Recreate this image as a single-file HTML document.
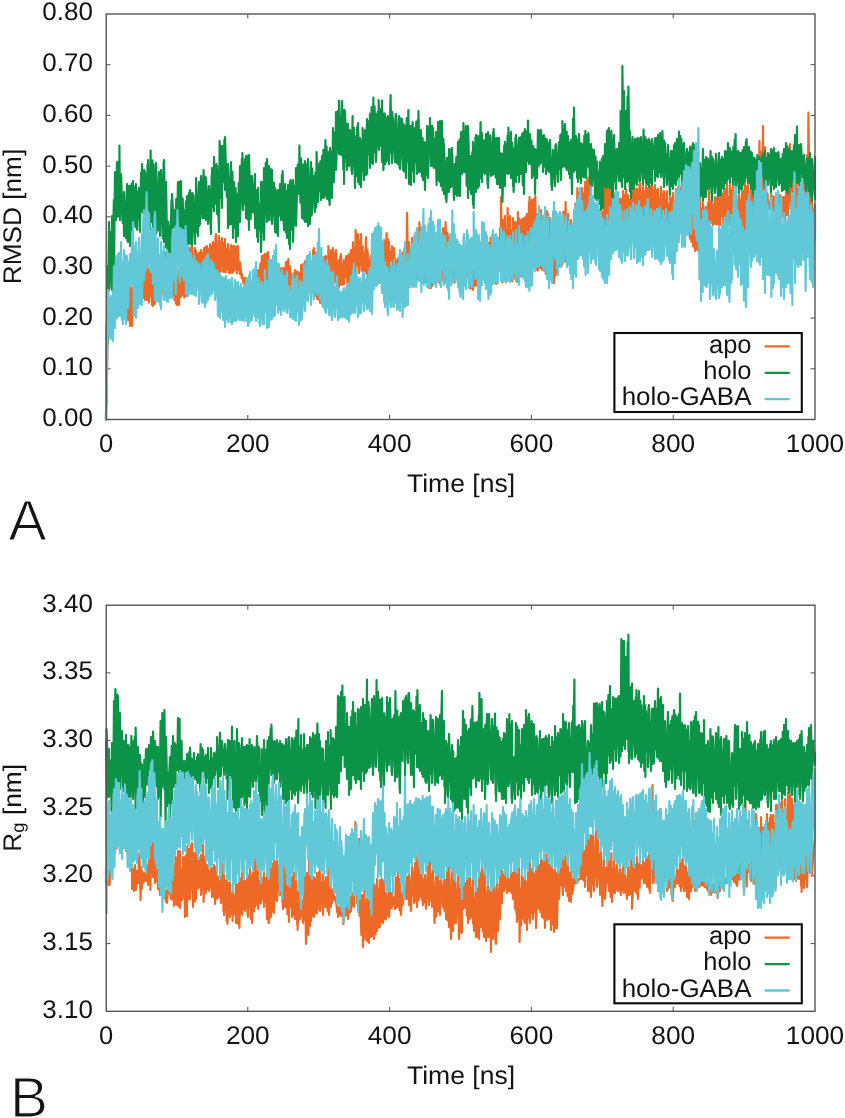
<!DOCTYPE html>
<html><head><meta charset="utf-8"><title>RMSD and Rg</title>
<style>html,body{margin:0;padding:0;background:#fff}svg{display:block;will-change:transform}text{font-family:"Liberation Sans",sans-serif;font-size:25.5px;fill:#141414;text-rendering:geometricPrecision}</style></head><body>
<svg width="845" height="1118" viewBox="0 0 845 1118">
<rect width="845" height="1118" fill="#fff"/>
<path d="M106 368.8h4.5M815 368.8h-4.5M106 318.1h4.5M815 318.1h-4.5M106 267.4h4.5M815 267.4h-4.5M106 216.8h4.5M815 216.8h-4.5M106 166.1h4.5M815 166.1h-4.5M106 115.4h4.5M815 115.4h-4.5M106 64.7h4.5M815 64.7h-4.5M247.8 419.5v-4.5M247.8 14v4.5M389.6 419.5v-4.5M389.6 14v4.5M531.4 419.5v-4.5M531.4 14v4.5M673.2 419.5v-4.5M673.2 14v4.5" stroke="#505050" stroke-width="1" fill="none"/>
<g>
<path d="M106 419.5l.6-93.4l0 77.8l1.4-97.8l0 32.8l1.9-32.5l.7 21.7l.7-19.9l.7 15.7l0-17.8l1.8 11.7l.8-15.6l.8 17.1l.8-23.3l.8 21.6l.7-25.9l.9 23.8l.8-27.3l.6 25.7l0-27.8l1.7 28.9l1-25.3l.6 27.3l1-30l.6 31.8l.9-32.5l.7 25.8l.8-27.4l.9 35.4l.9-37.4l.9 43.2l0-43.8l1.4 38.9l.7-32.9l-.1 37.8l1.7-41.3l.9 22l.9-30.3l-.5 27.6l1.9-29.8l.8 28.3l.9-27.4l.8 24l.6-28.9l1 30.9l.7-29.1l.9 21.8l.9-26.3l.7 31.3l.8-32.6l0 33.8l1.6-39.4l.7 39.5l.3-45.9l1.4 48.5l1-32.5l.6 26.2l.8-26.4l.7 35l.8-35.7l.1 36.7l1.7-36.7l.3 34.7l1.3-33.8l.6 24l1-25.9l.7 22.3l.7-23.9l.7 27.3l0-27.8l1.7 27.8l.9-32.7l.9 31.9l.8-36.8l.8 32.3l.7-36.3l.8 39.1l.8-43.6l.6 46.1l0-47.8l1.8 48.7l.8-34.2l.8 35l.6-29.5l1.1 29.2l.6-27.2l.9 32.4l.7-31.7l.8 35l1-24.3l-.1 25.4l1.7-35.2l.3 35.2l1-34.8l1.1 26.7l.7-30.3l.7 28.1l.9-31.9l.9 34.9l.6-40.7l1.1 39l0-41.8l1.5 34.2l.8-37.2l.8 36.5l-.1-39.5l1.5 37.6l.8-39.1l.7 37.3l0-37.8l1.8 35.1l1.2-33.1l.3 31.8l.8-29l.9 30l1-26.8l.6 26.2l.7-27.6l.7 27.2l1-29.8l.9 27.9l.7-25.1l.8 25.4l.6-30.2l1.1 29.3l.7-30.5l.9 29.6l.3-30.4l1.2 29.9l.7-26.9l1.1 26.8l0-31.8l1.4 28.3l.9-26.7l.6 19.2l.1-22.8l1.7 30.1l.8-36.2l.7 36.6l-.2-38.5l1.8 37.7l1.2-35.7l.5 32.7l.6-27l-.1 30.1l2-33.8l.7 33.6l.7-28.7l.7 28.9l.9-32.8l.7 33.2l.9-23.1l.7 20.1l.7-25.2l1 28.7l.7-22.3l.3 22.4l1-27.8l1.2 28l.9-26.9l.8 25.1l.1-25.2l1.5 23.4l.7-23.1l.8 27l1-27.3l.7 23.9l.7-7.7l.6 11.6l0-11.8l1.7 16.1l.3-4.1l1.3 8.7l1-4.8l.7 11.9l0-11.8l1.6 11.7l.4-3.7l1.2 3.6l.8-4.1l.8 4.9l.7-7.2l.9 8.2l.6-9.4l0 9.8l1.8-13.2l.8 13.2l.8-13.7l.9 13.4l.6-15.3l.8 15l.3-21.2l1.5 13.8l.8-20.2l-.3 28.2l2-35.8l.5 28.8l.9-29.5l.9 35.5l.7-36.8l.8 32.4l.8-32.8l.4 38.2l1-39.8l1 36.8l0-29.8l1.5 29.7l.8-26.5l1 23.3l-.3-23.5l1.8 27.9l.9-20.7l.6 19.6l.9-21.6l.8 23.8l0-23l1.5 24.3l.9-21.8l-.4 22.3l1.9-24.6l1 23.8l.6-23.8l.8 24.1l.7-24.3l1 16.5l1-22.5l.6 21.3l.9-22.4l.8 31.3l.1-33.2l.6 33.8l1-26.8l1.5 23.9l.5-15.9l1 14.2l.8-15.4l.9 15.4l.3-18.2l1.2 18.4l.8-17l.9 15.6l.1-15l1 14.8l1.1-13.9l.9 11.1l0-19l1.6 20.6l.4-21.6l1.2 19.4l.7-21.8l.9 25.6l.7-27.8l1 28.5l.7-30.7l.8 31.6l0-32.8l1.7 30.3l.7-24.5l.7 30.9l1-42.8l.8 42.6l.1-44.5l1.3 47.6l.9-42.9l.9 46.1l.8-40.5l.6 41.1l.5-43.4l1 46.8l.9-36.7l1.1 37.7l.7-43.3l.6 35.8l1-39.8l.7 32.3l1-32.8l.7 30.9l.8-29.8l.6 31.2l.3-42.3l1.3 37.7l1.3-33.7l.4 31l.8-30.5l.7 37l.1-39.5l1.6 34.7l.8-29.8l.7 28.7l-.1-31.6l1.8 36.2l1.2-26.2l0 26.8l1.3-30.3l.8 28.2l-.1-30.7l1.6 30.5l.9-20.1l.7 19.7l-.2-24.1l1.9 17l.1-21l1.5 27.4l.6-28.2l.9 27.6l0-28.8l1.6 23l.4-27l1.2 29.4l.8-37.4l.9 32.5l.8-27.1l.8 26l.1-43.4l1.3 35.6l1.1-31.6l.6 38.8l.9-32.1l-.5 32.1l2-38.8l.8 36.8l.8-24.3l.9 24.2l-.1-18.7l1.6 19.3l1-34.3l.6 36.7l.9-24.3l.7 25.2l-.2-20.6l1 20.8l2-18.8l.5 19.5l.8-18.3l.6 16.8l.9-16.5l1.2 25.3l.4-27.2l.8 22.9l.8-26.5l.7 28.1l1-28.5l.3 31.2l1.3-27.4l.6 24.3l.9-33l.8 23.5l.7-24.2l1 24.9l-.3-30.9l1 38.8l1.6-45.8l.8 43.6l.7-37.3l.8 38.1l.1-35.4l1.5 36.1l.9-26.8l.8 25.4l-.2-30.7l1 32.8l1-30.8l1.4 40.3l.6-28.3l.9 33.9l.9-35.3l1.2 44.2l.4-45l.8 36l.8-37.8l0 32.8l1.6-36.5l.7 35.6l.8-32.9l1 31.8l-.1-40.8l1.6 37.1l.4-70.1l1.3 74.1l.7-45.1l1 44.8l.6-32.9l.7 23.9l.7-39.8l1 48.8l1-46.8l.7 45.1l.6-49.3l1 47.5l.7-52.4l.9 47.6l.8-50l.7 50.9l0-57.4l1.6 56.8l0-50.8l1.7 45.8l.7-32.2l.9 39.8l.8-40.1l.8 41l1.1-46.3l.3 49.8l1-49.2l.7 51.2l.8-50l1.2 50l.4-52.2l.9 50l.7-47.9l.8 45.4l1.2-49.1l.3 38.1l.8-38.9l.8 32.7l1.1-33.9l0 49.8l1.4-50l.8 52.3l.7-46.8l.1 48.5l2-57.8l.5 52.3l.7-51.4l.7 53.6l.7-60.5l1.1 59.8l.7-49.1l.8 49.6l-.2-46.3l1.9 46.4l.6-37.5l1 36.9l.7-42.1l-.2 42.1l1.8-40.6l.8 41.5l.8-39.3l.9 31.4l.7-24.2l.9 32.5l.6-38l.9 37.3l.6-37.4l.9 32.2l.9-27.5l.8 31.6l.9-35.1l.6 34.9l.9-33.7l.7 31.9l1.3-32.3l.4 29.2l.8-29.6l.7 36.2l.9-24.2l.9 29.9l.8-42.6l.6 31.8l.8-31.4l.1 43.5l1.7-45.3l.6 41.5l1-40.4l.8 39.2l.9-42.8l.6 34.6l.8-32.9l.7 27.3l.8-28.4l1.1 37.2l.7-39.1l.6 38.8l1-39.5l.8 35.9l.6-36.2l1 33l.7-22.7l.8 28.1l.8-35.4l.8 39.3l.7-44.3l1 43.1l.6-43l1 42.9l.9-44.7l.5 33.9l1-34.9l.5 48.8l1.1-46.2l.7 44.7l.8-44l.9 32l.5-42.3l1 42.5l0-73.5l1.5 85.3l.5-62.3l1.3 43.4l.7-47.4l.8 66.3l.8-53.5l.7 35.6l.3-56.4l1.4 65.5l1-57.5l.5 46.6l.8-32.3l.9 51l.8-63.3l.7 59.3l1.3-55.3l.4 57.1l.8-56.6l.8 59.3l1-69.8l.5 48.5l.9-41.8l.8 57.5l.8-56.2l.7 52.6l1-53.6l.7 49.9l.6-50.9l1.1 41.9l.7-43.4l.9 56.2l.3-58.7l1 59.8l1-72l.7 69.4l-.1-74.2l1.7 67.9l.7-64.9l1.1 50.7l.8-51.7l.6 50.4l.9-53.4l.9 73.6l.8-55.2l.6 56.2l.3-56.6l1.5 54l.7-53.6l.9 53.5l-.1-57.9l1 59.8l1.5-54l.7 45.1l-.2-44.9l1.8 57.8l1.2-62.8l.4 63.6l.8-60.4l.9 62.8l.9-59l.6 49.8l.7-31.9l1 44.1l.7-64l1 66.8l.6-60.6l.9 53.5l.7-50.3l.8 47.2l.9-54.3l.1 51.5l1.4-49.9l.9 46.5l-.3-54.4l1.9 53.1l1.1-53.1l.4 50.4l.7-50.9l1 36.4l.5-45.9l.4 59.8l1.3-44.9l1 40.2l-.3-43.1l1.8 38.8l1.2-32.8l.4 30.6l.8-18.7l-.2 21.9l1-21.8l1.7 9.5l.7-38.1l.7 43.6l1.3-59l.6 65.8l.6-60.4l.9 57.8l.5-59.2l1 56l1-60l.7 47.3l.7-41.9l.9 54.2l.7-65.6l1 63.8l1-65.8l.3 55.2l1-57.1l.6 67l.5-69.1l1.3 62.6l.3-50.6l1.2 57l.9-46.3l.6 37.8l.3-32.5l1.4 37.2l.8-34.9l.8 38.6l.8-35l.2 35.9l1.3-35.5l.8 30.8l.9-22.5l.9 19.9l.1-26.5l1.3 27.3l.8-43.9l1 49.3l-.1-56.7l2 40.8l0-41.8l1.3 34.1l.7-32.1l.8 28.1l.8-25.9l.8 37.1l.8-36l.7 35.8l.9-33.3l.7 33.3l.9-30.9l.9 30l.6-30.4l1 30.9l.6-22.2l.9 22.5l.7-29.4l.8 27.7l.1-27.3l1.6 28.7l.4-36.7l1.3 32.7l.6-29.2l.9 33.6l.2-39.1l1 39.8l1-33.8l.9 33l.9-28.6l.7 28.6l.5-27l1.3 27.5l.7-36.5l.8 33.5l.2-38.5l1.5 36.6l.6-35.1l1 40l-.1-39.5l1.6 39.6l.8-44.2l.7 41.8l-.1-43.2l1.7 40.7l1.3-36.7l.4 41.6l.7-37.3l1 36.9l.9-43.2l1 43.8l.5-40.6l.8 35.8l.7-35l.7 39.3l.9-42l.8 42.1l.6-45.4l1 36.5l.9-29.8l.6 38.6l.5-43.3l1.3 40.9l.7-35.8l.7 38.6l.3-39.7l1.4 38.4l.7-30.2l1 30l-.1-40.2l1.6 33.2l.8-26.5l.9 24.7l-.3-27.4l1.9 36.6l1.1-36.6l0 37.8l1.2-24.7l.8 21.3l1-28.4l.6 27l.9-25.8l.8 30.4l.7-35.6l.9 31.2l.7-21.4l.8 27.2l.6-41l.9 36.5l1.1-38.5l.5 33.9l1-33.5l.7 41.4l.8-41.8l.7 31.9l1.3-31.9l.5 35l.6-30.6l.9 40.6l.7-40.5l1.3 42.3l.3-42.1l.8 33.5l.9-30.6l.8 43.7l1.2-43.3l.4 46.7l.7-43.7l1 48.3l.7-43.1l1.2 47.6l.5-36.6l.7 34.7l-.2-49.9l2 51.8l.7-49.1l.7 38.5l.6-41.2l1 29.8l.8-19.4l.7 11.5l.5-17.9l1.2 21.6l.8-16.2l.7 18.6l.3-20l1.4 18.3l.8-23.1l.8 23.1l0-34.3l1.7 31.8l.7-20.2l.8 15.7l-.2-15.3l1 21.8l2-27.8l.3 27l.9-25.9l.9 26.3l.9-25.4l.5 25.5l.9-26.3l.6 26.6l1-27.8l.7 19l.9-22.1l.8 30.6l.6-33.5l.9 33.4l.9-34.9l1.2 35.3l0-41.8l1.1 32.9l.9-19.7l.8 28.4l.2-39.6l1.3 39.7l.9-35l.9 33.4l-.1-36.1l1.6 30.1l.8-23.5l.9 31l-.3-33.6l1 33.8l2-29.8l.3 26.7l.8-22l1 27.3l.9-36l.5 35.6l1-35.9l.5 38.1l1-45.8l0 49.8l1.6-46.5l.7 38.6l.7-39.9l.9 38.4l.8-27.8l1.3 23.2l0-27.8l1.3 26.2l.6-29.5l.9 26.3l.9-25.1l.7 21.1l.8-29.4l.7 23.8l.1-25.4l2 29.8l.4-67.8l.9 67.7l.8-57.1l.7 56.6l1.2-82.2l.4 81.6l.8-47.9l.7 48.8l.1-61.5l1.6 58l.9-11.6l.5 15.4l0-7.8l1.9 8.1l1.1-14.1l.4 17.7l.8-16.8l.8 18.9l1-17.8l.7 16.9l.7-14.7l.6 11.6l0-15.8l1.9 13.3l.7-11.7l.7 12.4l.7-14l0 15.8l1.7-14.1l.9 19.7l.7-19.3l.9 23.5l-.2-23.6l1 25.8l2-61.8l.3 54.1l.9-60.5l-.2 60.2l2-70.8l.7 64l.7-35.4l.6 38.2l1-37.8l.8 39.6l.8-26l.9 24.8l.5-34.4l.9 36.3l1-25.1l.7 27.8l.4-35l1 37.8l1.1-35.8l.7 36.3l.9-29.2l.6 19.6l.7-24.7l1.1 34.1l.7-45.9l.7 43l.5-61.2l1 67.8l.4-110.2l1.3 112.2l-.1-69.8l1.8 61.2l.6-15.2l1 27.7l2-23.7l0 27.8" fill="none" stroke="#ee6925" stroke-width="2.2" stroke-linejoin="round" stroke-linecap="round"/>
<path d="M106 419.5l1.6-153.4l0 77.8l1.4-121.8l0 67.8l1.6-57.7l1 56.1l.4-72.2l0 73.8l1.9-90.1l.1 72.1l1-99.8l1 47.8l1-57.8l.9 54.4l.9-55l.7 53.9l-.1-69.9l.6 74.4l1-45.8l1.7 48.8l.9-25.1l.4 38.1l0-43.8l1.9 45.8l1.1-53.8l.5 56.8l.7-55.1l-.2 56.1l2-55.8l0 59.8l1.6-62.3l.7 47.9l.7-50.4l0 46.8l1.7-41.3l.9 40.3l.4-42.8l1.1 45.7l.9-38.4l.7 26.7l.3-30l1 43.8l1.1-59.5l.8 39.1l.1-47.4l1.5 49.8l.8-43.7l.8 60.1l-.1-58.2l1.8 53l.7-60.4l.8 64.8l-.3-69.4l2 69.8l.6-79.4l.8 71.4l1-61.5l.8 71l-.2-67.3l1.6 61.1l.9-61l.8 69.4l-.3-70.5l1.8 67.3l1.2-58.3l.6 53.7l.7-43.9l-.3 54l1-65.8l1.8 68l.8-75.4l.4 79.2l0-81.8l1.8 86.7l.2-64.7l1.4 74.9l.9-35.3l-.3 40.2l1-35.8l1 35.8l1.5-61.4l.5 27.4l0-33.8l1.9 33.7l1.1-17.7l.6 17.8l.7-29.1l.8 27.3l.9-44l.7 42.3l.8-42.5l.5 54l1-54.8l1 54.6l.7-37.2l.8 34.9l.5-23.3l1 22.8l.9-31.2l.9 40.3l.2-45.9l1 47.8l1.2-51.3l.8 51.2l0-53.7l1.5 52.8l.7-49.7l-.2 51.7l1-50.8l2 49.8l.6-48.1l.6 36.3l-.2-54l2 57.8l1-53.8l.4 43.9l.8-34.2l-.2 32.1l1-47.8l1.6 42.4l1-48.4l.4 47.8l1.1-41.2l.8 43.4l.1-42l1.6 32.8l.7-17.9l-.3 30.9l1-37.8l2 47.8l.6-58.1l.8 31l-.4-38.7l2 43l0-54l1 46.8l1.4-39.8l.8 50.2l-.2-48.2l2 65.8l.6-90.8l.7 56.7l.7-51.9l1 62l.4-61.8l1 35.8l1-42.1l.6 50.1l0-52.8l1.8 59.8l.8-30.3l.4 61.3l0-63.8l1.9 60.5l1.1-62.5l0 61.8l1.4-52.3l.6 66.3l1-55.8l.7 45.9l.9-39.8l.4 53.7l1-47.8l1 41.8l.7-52.9l.7 26l.6-42.9l0 55.8l1.9-63.1l1.1 51.1l-.6-56.8l1.9 50.8l.8-44.8l.9 58.8l0-61.8l1.5 63.3l.7-64.1l.8 74.6l0-74.8l1.7 63.9l.9-42.9l.4 35.8l0-35.8l1.9 36.5l1.1-38.5l0 53.8l1.4-37.6l.7 46.8l.9-49l0 53.8l1.6-38.3l.6 26.1l.8-47.6l0 69.8l1.8-69.9l.8 50.6l.4-64.5l0 71.8l1.8-77.2l1.2 59.2l0-62.8l1.2 56.2l.8-49.2l0 53.8l1.6-51.1l.9 52.3l.5-51l0 53.8l1.9-41.2l1.1 49.2l0-43.8l1.2 44.6l1-42.3l.8 45.5l0-45.8l1.5 25.2l.5-31.2l1 35.8l.9-44.8l.7 45.1l0-49.1l1.4 58.8l1-45.8l.8 48.5l1-41.5l.2 46.8l1-52.8l1.1 58.9l.8-62.4l.1 67.3l.6-68.8l1.7 49.9l.7-49.9l0 61.8l1.7-56l.7 38.1l.6-55.9l0 57.8l1.8-61.4l1.2 29.4l.4-48.2l1 57l.7-44.2l.9 59.4l0-53.8l1.6 55.3l.6-55.1l.8 57.6l0-60.8l1.7 60.7l.7-58l.6 62.1l0-66.8l2 64.8l1-61.8l.5 53.6l.8-47.1l-.3 45.3l2-37.8l1 35.8l.4-39.2l.9 34.7l.3-55.3l1.4 49.8l1-37.8l.4 26.7l.9-29.5l.7 38.6l1-43.8l.8 41.6l.6-47.8l.6 48l1.4-57.8l.4 55.6l.8-49.2l.4 52.4l1-46.8l1.1 48.9l.9-52.9l-.4 56.8l1.8-53.5l.6 46.5l1-69.8l1 53.8l.6-49.2l1 35.6l.4-56.2l0 57.8l2-58.9l1 42.9l0-53.4l1.3 52.9l.8-36l-.1 37.5l1-53.8l1.4 68.7l1-60l-.4 74.1l1-72.8l2 58.8l.4-46.1l.9 33.7l-.3-33.4l1 41.8l1-35.8l1.5 40.8l1.1-54.8l-.6 57.8l1.8-46.1l1.2 60.1l0-51.8l1.3 39.9l.7-48.6l1 54.5l0-58.8l1.5 61.3l.5-46.3l1 48.8l.9-46.2l.8 30.1l-.1-42.7l1.4 51.8l1-49.8l1 44.8l1-55.8l0 54.8l1.3-52.5l.9 32.8l.8-40.1l0 53.8l1.6-60.9l.7 56l1.1-65.3l-.4 66.2l1.6-57.1l.9 46l.5-38.7l0 47.8l1.9-50l1.1 38l-.4-49.8l1.7 45.3l.9-36.5l.8 53l0-61.4l1.4 69.4l1-56.5l.8 50.7l-.2-50l1 47.8l1.4-44.6l.8 43.2l-.2-44.4l1 47.8l1.6-68.8l.9 58.5l.9-41.4l-.4 50.7l1-44.8l2 43.8l.6-47l.8 47.8l-.4-48.6l2 49.8l1-47.8l.5 51.5l.9-49.3l-.4 50.6l2-49.8l1 50.8l.6-45.9l.7 47.7l.7-45.6l1 51.8l.7-59.7l.7 43.4l1-51.5l.6 73.8l.8-58l1.2 59l0-58.8l1.3 44.5l.3-48.5l1.4 59.8l1-53.8l.5 34.1l.8-40.5l.7 52.2l.9-54.1l.8 52l-.3-60.7l1.6 60.8l1-41.8l.9 46.4l.7-38.4l.4 41.8l1-37.8l1 47.8l.9-47.5l.8 32.7l.3-49l1 51.8l1.1-51.5l.8 28.3l.1-36.6l1 47.8l1.2-40.1l.8 40.4l0-38.1l1 39.8l1.6-29.6l1 46.6l-.6-52.8l2 47.8l0-57.8l1.5 59.7l.5-60.7l1 64.8l1-64.8l.7 69.2l.7-51.5l.6 55.1l0-49.8l1.8 54.7l1.2-40.7l-.6 43.8l1.9-44.4l.7 34.4l0-42.8l1.7 38.4l.7-38.6l.2 37l.4-37.8l2 51.8l1-35.8l.5 29.7l.8-36.7l.7 38.8l1-53.8l.8 52.8l.7-55.4l.5 56.4l1-63.8l1 41.8l.8-42.9l.6 41.1l0-49l1.6 48.8l1-45.8l.6 59.6l.8-47.3l.6 59.5l0-71.8l1.9 63.5l1.1-33.5l0 37.8l1.3-41.9l.7 52.3l0-62.2l.6 65.8l1.9-70.5l.5 54.5l0-56.8l2 52.7l0-51.7l1 49.8l1.6-63.8l.5 55.8l.9-44.7l0 48.7l1-41.8l1.4 32.7l.7-32.6l-.1 33.7l1-39.8l1.6 50.5l.4-52.5l0 55.8l1.9-52.5l1.1 40.5l-.6-39.8l1.8 38.8l1-42.8l.8 41.8l-.4-44.8l2 48.2l.4-39.2l1 45.8l.8-45.7l.8 45.8l.4-45.9l1 49.8l1-34.5l.9 34.4l.1-33.7l.4 47.8l1.8-56.2l.8 40.2l0-43.8l1.6 31l1-37.5l.4 38.3l.4-46.2l1.5 45.6l1.1-41.2l0 45.8l1.2-35.1l.9 43.6l-.1-38.3l.6 43.8l1.9-54.4l.5 44.4l0-46.8l2 40.1l1-37.1l0 43.8l1.2-44.6l.8 36.6l1-39.8l.8 51.1l.6-52.8l.6 61.5l1-64.8l1 42.8l.6-40.3l1 29.6l.4-40.7l1 43.4l1-29.8l.8 29.8l.6-23.4l.6 37.4l1-31.8l1 29.7l.8-26.9l.2 45l1-43.8l1 27.8l1-47.8l.7 36.1l.8-35.6l.5 33.3l1-33.8l.9 32.3l.9-26.5l.2 36l1-36.8l1 31.3l.9-27.7l.1 35.2l1-33.8l1.3 30.7l.9-27.6l-.2 28.7l1-31.8l1.5 46.1l.9-29.2l-.4 32.9l1-39.8l2 35.8l.4-40.6l.8 28.3l-.2-29.5l2 37.8l1-39.8l.6 26.5l.7-33.4l.7 44.7l.9-46.8l.7 34.1l-.2-46.1l1.6 44.8l1-41.8l.9 43.7l.8-36.3l.3 38.4l1-33.8l1.1 38.1l.8-31.9l.1 35.6l1-37.8l1 53.8l1.1-75.4l.8 53.3l.1-64.1l1 62.2l1-33.8l1.1 41.7l.9-38.4l0 42.5l1-47.8l1.3 44.7l.8-35.5l-.1 39.6l1-38.8l1.4 32.9l.9-41.1l-.3 41l1.4-45.8l.6 46.8l1.5-43.4l.9 32.1l0-33.5l1.6 49.7l1-38.7l.5 40.7l.7-35.4l-.2 36.5l2-35.8l1 47.8l.5-41.4l.9 43.4l.6-37.8l1 41.8l.7-32.1l.9 32l.4-41.7l1 47.8l.8-50.9l1.2 48.9l0-51.8l1.4 29.8l.6-41.8l.9 44.1l1.1-57.1l0 55.8l1.3-57.5l.8 57.8l-.1-59.1l1 60.8l1.4-57.8l.8 65.3l1-56.9l-.2 59.4l1-63.8l1.4 46.7l1-32l-.4 39.1l1-39.8l2 31.8l0-37.8l1.4 38l.2-70l1.4 75.8l.4-120.8l1.1 111.1l.5-86.1l1 97.8l1-77.8l.8 71l.7-85.2l.5 84l.4-94.2l1.5 104.6l.1-60.2l1 67.8l1.6-61.8l.4 52.3l.8-46l.2 43.5l1-47.8l1.4 44.7l.7-45.3l-.1 46.4l1-46.8l1.6 43.2l.8-43.8l-.4 43.4l1-43.8l2 47.8l.6-55.2l.8 48.5l.6-41.1l1 45.8l0-43.8l1.5 45.4l.8-44.9l.7 47.3l0-47.8l1.7 43.5l.8-41.9l.5 44.2l0-45.8l2 30.1l1-31.1l0 42.8l1.4-42.9l.7 38.2l.9-41.1l0 41.8l1.6-42.9l.8 39.1l-.4-40l1 43.8l1.4-45.8l1.1 46.9l.7-37.3l-.2 46.2l1-43.8l2 41.8l.4-30.6l.8 25.8l-.2-35l2 49.8l1-43.8l.4 34.7l.9-34.5l.7 37.6l1-43.5l.8 38l.2-40.3l1 41.8l1-45.8l.9 40.4l1.1-47.8l0 45.2l1.3-40.8l.7 37.4l.4-34.4l.6 45.8l1.6-41l.6 30.5l-.2-31.3l1 33.8l2-27.8l.5 30.4l.9-26.8l.8 28.6l.8-34.2l1 37.8l.5-38.4l.8 37.6l.7-41l1 33.9l1-31.9l.4 36.7l1-28.8l.6 39.9l1-36.4l.6 30.9l.8-20l.6 29.5l0-33.8l1.9 32.9l1.1-46.9l0 51.8l1.3-41.1l.8 37.3l.9-40l0 39.8l1.5-38.2l.7 30.2l-.2-29.8l1 29.8l1.6-37.8l.9 42.4l.7-36.4l-.2 43.8l1-41.8l2 33.8l.6-32.7l.6 24.7l-.2-30.8l2 42.8l1-43.8l.6 42.6l.8-35.7l.6 34.9l1-37.8l.6 30.7l.9-28.5l.5 29.6l1-37.8l.8 32.1l.9-31.6l.3 29.3l1-37.8l1.1 35.8l.9-30.6l0 34.6l1-31.8l1.4 25.7l1-29.7l-.4 37.8l1.7-45.4l.9 48.2l0-53.6l.4 54.8l2-37.8l1 41.8l.4-40.2l.9 36.2l.7-35.8l1 35.8l.6-38.8l.8 34.3l.6-37.3l1 33.8l.9-39.5l.8 35.8l-.1-38.1l1.4 43.8l1-35.8l1 36.6l.6-32.1l.4 37.3l1-35.8l1 40.6l1-36l0 39.2l1-37.8l1 29.8l1.4-33.8l.5 22.1l.9-20.1l.2 15.8l1-13.8l1 14.1l.9-16.9l.1 20.6l1.5-23.3l.8 29.1l.7-31.6l0 35.8l1.7-28.7l.8 25.7l.5-30.8l0 31.8l1.8-30.1l1.2 38.1l0-43.8l1.3 35.7l.9-34.8l.8 38.9l0-40.8l1.4 31.9l.6-26.9l0 33.8l1.9-33.7l1.1 31.7l-.6-32.8l2 30.9l.6-23.9l1 31.8l.7-36.7l.8 35.6l.5-40.7l1 39.8l1-45.8l.7 47.2l.7-43.9l.6 46.5l1-43.8l1 37l.8-34.7l.2 35.5l1-35.8l1 29.4l.9-35.2l.1 33.6l1-43.8l1.2 40.5l.8-48.9l0 56.2l2-37.8l.5 39.5l.7-28.1l-.2 28.4l1-40.8l2 38.8l.6-26.3l.7 26.2l-.3-27.7l2 35.8l1-31.8l.6 26l.8-27l.6 32.8l1-37.8l.7 42.8l.8-27.1l.5 32.1l0-41.8l3 39.8l0-41.8" fill="none" stroke="#0b9447" stroke-width="2.2" stroke-linejoin="round" stroke-linecap="round"/>
<path d="M106 419.5l.6-93.4l0 77.8l1.4-113.8l1 45.8l.7-37.9l.8 40l.5-41.9l0 42.8l2.1-47.1l-.1 49.1l1-74.8l1 61.8l1-71.8l1 61.8l1-63.8l.5 61.4l.9-62.7l.6 63.1l1-73.8l.8 77.7l.9-57.7l.3 61.8l1-73.8l1 68.9l.8-63.6l.2 68.5l1-67.8l1.2 51.5l.9-45.8l.7 24.1l.2-31.8l1.4 29.8l.8-51.8l.8 53.8l0-63.8l.8 93.8l1.7-70.7l.5 72.7l0-75.8l1.8 65.9l.8-57.2l.4 53.1l0-65.8l1.9 66.4l1.1-70.4l0 70.8l1.3-87.2l.9 62.5l-.2-70.1l1.6 61.8l1-79.8l.8 69.1l.8-49.4l-.2 56.1l1-53.8l1.5 56l.8-36.9l-.3 38.7l1-43.8l1 55.8l1.6-68.9l.4 84.9l0-87.8l2 88.1l1-62.1l0 63.8l1.5-46.7l.7 50.1l.8-63.2l0 66.8l1.6-57.6l.8 37l.6-42.2l0 53.8l1.8-42.2l.7 43.3l.5-50.9l1 51.8l1-48.4l.9 44.5l.1-43.9l1.5 33.4l.7-48.8l-.2 59.2l1-67.8l1.6 50.5l.8-53.5l.4 66.8l.2-67.8l.6 53.8l.8-69.8l2.1 66.3l.5-48.3l0 53.8l1.7-52.2l.9 46.7l.4-46.3l1 49.8l1-49.8l1 63.8l-.4-67.8l1.9 68.4l.5-48.4l0 49.8l1.8-43.9l.8 42l.4-39.9l1 39.8l1.1-35.1l.8 35.8l.1-38.5l1.3 39.4l.9-33.8l-.2 34.2l1-33.8l1.7 28.8l.8-27.2l-.5 40.2l1-39.8l2 37.8l1-39.8l.4 40.7l.8-42.7l.8 46.8l1-50.8l.5 46.6l.9-43.6l.6 40.8l0-45.8l1.9 41.9l1.1-35.9l.3 25.2l.8-22.1l-.1 30.7l2-29.8l.6 27.3l.8-21.6l-.4 30.1l2-29.8l1 45.8l.7-43l.7 43.6l.6-42.4l0 43.8l1.7-41.2l.9 35.4l.4-34l0 41.8l2-42.3l0 49.3l1-50.8l1.4 43.4l.8-39.3l-.2 41.7l1-41.8l1.6 42.2l.9-43.8l.5 45.4l0-45.8l1.7 43l1.3-41l.4 40.4l.8-37.9l-.2 38.3l2-38.8l.6 37.7l.7-32.9l.7 33l1-35.8l.9 36.1l.6-31.7l.9 28.5l.6-30.9l0 34.8l1.9-39.1l.7 39.2l.4-42.9l1 47.8l1.1-50.6l.6 47.2l.3-50.4l1.5 47.8l.7-34.5l-.2 34.5l1-49.8l1.6 46.3l.7-48.7l.7 53.2l0-58.8l1.9 55.3l1.1-39.3l.4 45.7l.9-38.7l-.3 40.8l2-43.8l.7 42.3l.8-36.9l.5 36.4l1-53.8l.9 42.4l.7-31.6l.4 47l1-41.8l1 40.8l0-66.8l1.5 60l.5-60l1 58.8l1-62.8l.7 60.3l.8-65.7l.5 64.2l1-69.8l1 59.4l.8-40.8l.2 49.2l1-48.8l1.3 46l.6-36.5l.1 41.3l1-44.8l1.5 40.4l.7-33.9l-.2 34.3l1-34.8l1.7 36.2l.3-40.2l0 40.8l2-26.6l1 30.6l0-24.8l1.3 25.2l.8-37.3l.9 38.9l0-44.8l1.7 45.7l.7-41l.6 42.1l1-44.8l.8 35.6l.8-22.6l.4 35.8l1.1-43.9l.9 39.5l0-38.4l1 36.8l1.5-37l.8 23.6l-.3-41.4l1 46.8l2-54.8l.5 44.3l.6-45.4l-.1 45.9l2-48.8l.5 40.8l.9-30.4l-.4 42.4l2-48.8l1 42.8l.6-43.5l.8 36.2l.6-37.5l1 40.8l.8-52.4l.9 50.1l.3-63.5l1 69.8l1.4-50.8l.3 54.5l1-45.1l.3 49.4l1-44.8l.9 48.5l.9-43.7l.2 46l1-52.8l1.1 47.6l.9-41.6l0 48.8l1.6-42.6l.8 44.4l.8-38.9l-.2 42.1l1-47.8l1.7 44.4l.7-29.7l-.4 30.1l2-40.8l1 43.8l.6-31.9l.8 30l.6-25.9l1 24.8l.8-24.4l.9 24.1l.7-27.8l.6 28.1l0-28.8l1.9 29.8l.7-32.2l.4 33.2l1-34.8l1 37.8l.8-40.3l.7 32.6l.5-38.1l1 36.8l.9-43.4l.8 42.7l.3-49.1l1 49.8l1.2-40.1l.7 32.3l.1-29l1 40.8l1.4-38.6l.8 35.3l-.2-35.5l1 34.8l2-40.8l.3 29.6l.8-27.9l-.1 37.1l1.8-31.2l1.2 29.2l0-32.8l1.1 31.7l.9-36.5l1 39.6l0-42.8l1.4 38.6l.6-72.6l0 79.8l1.9-81.9l.1 56.9l1-60.8l1.2 57.8l.8-58.8l0 57.8l1.4-61.8l1.1 60.1l.7-55.8l-.2 55.5l1-54.8l1 64.8l1-50.8l1.2 60.2l.8-40.2l0 44.8l1.6-40.6l.9 45.5l.5-43.7l0 46.8l1.7-42l1.3 34l0-44.8l1.2 43.7l.7-39.3l1.1 40.4l0-46.8l1.5 42.1l.8-30.5l.7 38.2l0-45.8l1.6 44.6l.8-53l.6 55.2l0-60.8l1.7 50.5l.3-44.5l.6 60.8l1.6-68.4l.8 58.4l0-64.8l1.6 63.1l.8-42.7l.6 42.4l0-50.8l2 32.8l1-38.8l.3 36.9l1-41.5l.7 43.4l1-50.8l.6 50.1l.8-53.6l.6 54.3l1-58.8l.9 45.1l.8-29.7l.3 37.4l1-48.8l1.4 59.8l.3-65.1l.8 56.2l.9-73.9l.6 75.8l1.1-59.4l.8 46.2l.1-39.6l1 54.8l1.4-62.8l.5 62.4l.8-68.2l.3 68.6l1-75.8l1.2 70.5l.8-59.8l0 61.1l1-56.8l1.3 58.7l.9-51l-.2 53.1l2-66.8l0 60.8l1.5-60.7l.8 64.2l-.3-64.3l1 66.8l1-52.8l1.5 36.1l.7-33.9l-.2 48.6l1-48.8l2 50.8l.4-38l.8 41.4l-.2-48.2l1 56.8l1-64.8l1.3 51.2l1.1-74.8l-.4 72.4l1.8-58.5l1.2 56.5l0-46.8l1.2 45.3l.9-39.5l.9 47l0-44.8l1.5 50.4l.8-47l.1 51.4l.6-50.8l2 52.8l.5-61.7l.6 48.5l-.1-51.6l2 54.8l1-58.8l.4 41.2l.8-36.1l.8 52.7l1-47.8l.5 44.8l.8-47.4l.7 49.4l1.1-49.9l.8 32.8l-.3-57.7l1.4 66.8l1-48.8l1.1 47.5l.8-43l.1 64.3l1-62.8l1 64.8l1.1-57.6l.7 42.1l.2-63.3l1 56.8l1-55.8l1 60.4l.9-51.4l.1 56.8l1-52.8l1.4 62.8l.7-53.7l.7 49.7l.2-46.8l1 44.8l1.1-57.9l.8 48.9l.1-53.8l1 52.8l1.3-47.7l.8 46.7l-.1-47.8l2 48.8l0-44.8l1.4 29.5l.9-27.6l.7 40.8l0-52.7l1 52.8l1.3-48.7l.9 47.9l-.2-48l2 49.8l1-45.8l.5 44.7l.7-42l.8 41.1l1-43.8l0 45.8l1.3-41l.9 37.5l.8-46.3l0 46.8l1.5-34.9l1 29.7l.5-43.6l0 50.8l1.8-36.5l1.2 40.5l0-58.8l1.3 48l.6-39.9l1.1 42.7l0-42.8l1.5 44.2l.7-29.7l.7 32.3l.1-44.8l1 50.8l1.3-50.7l1 51.4l-.3-55.5l1.4 58.8l1.6-62.8l.4 58l.7-58l-.1 56.8l2-60.8l1 46.8l.4-50.5l.9 47.1l.7-51.4l1 50.8l1-60.8l.4 59.7l.8-52.4l.8 51.5l1-44.8l.7 46.7l.8-51l.5 55.1l1-63.8l.8 61.1l.8-47.3l.4 58l1-62.8l1 71.8l.9-49l.6 40.7l.5-59.5l1 62.8l1.1-71.2l.6 43.3l.3-52.9l1 56.8l1.2-47l.9 56.6l-.1-54.4l1 60.8l1.4-61.5l.7 49.6l-.1-50.9l1 54.8l2-52.8l.3 47.8l.9-38l-.2 37l2-44.8l1 50.8l.4-34l.8 31.5l.8-44.3l1 52.8l.6-46.8l.8 52.9l.6-54.9l1 63.8l1-77.8l.6 63.5l.9-67.7l.5 71l1-76.8l1 58.8l.7-63.4l.7 60.6l.6-68l1 66.8l.9-54.3l1.1 58.3l-.6-54.8l1.7 62.2l.9-54.2l.6 62.8l1-64.8l.9 54.6l.5-58.6l0 66.8l1.7-76.6l1.3 66.6l0-74.8l1.2 63.1l.8-55.1l0 62.8l1.6-56.5l.7 60.6l.7-58.9l0 60.8l2-64.8l1 68.8l.3-56.9l.9 59.3l.8-57.2l1 62.8l.5-58.5l1 61.3l.5-59.6l1 62.8l.8-55.8l1.2 55.8l0-67.8l1.1 53.2l.9-44.3l0 50.9l1-67.8l1 51.8l1.1-49.3l.9 43.3l0-53.8l1.5 51.2l.9-57.1l.6 56.7l0-58.8l1.7 57.9l.3-56.9l1 64.8l1.3-51.5l.7 54.6l0-50.9l1 53.8l1.4-42.3l.9 31.2l-.3-40.7l1 49.8l2-51.8l.5 46.6l.6-36.7l-.1 35.9l2-47.8l1 51.8l.5-49.9l.8 33.2l.7-39.1l1 54.8l.7-46l.6 35l.7-41.8l1 57.8l.9-55.5l.7 53.8l.4-60.1l1 59.8l1-53l.8 49.1l.2-47.9l1 55.8l1.1-47.9l.8 37.7l.1-47.6l1 44.8l1.4-50.3l.7 48.3l-.1-50.8l1 50.8l2-40.8l.4 40.3l.8-32.4l-.2 39.9l2-45.8l1 47.8l.5-46.9l.6 46l.9-48.9l1 49.8l.7-49.8l.7 51.7l.6-53.7l1 56.8l.7-44.1l1 41.4l.3-50.1l1 47.8l1-42.7l.8 27.7l.2-34.8l1 46.8l1.3-33.1l.8 37l-.1-46.7l1 49.8l1.5-51.1l.6 61.8l-.1-62.5l1 67.8l1-75.8l1 59.8l1-71.8l1 59.8l.7-61.7l1.3 52.7l0-62.8l1.3 54.3l1.1-42.3l.6 55.8l.6-65l.8 63.7l.6-74.5l1 75.8l1-81.8l1 69.8l.4-67.7l.8 67.3l.8-67.4l.7 63.9l.8-61.5l.5 64.4l1-70.8l.9 51l1.1-63l0 77.8l1.4-58.1l.7 64.8l-.1-92.5l1 97.8l1.4-112.8l1 150.8l1.2-59.8l.4 81.8l.7-77.6l1 68.6l.3-80.8l1 73.8l1-75.8l.8 76.8l1.2-74.8l0 75.8l1.3-64.1l.8 59.7l.9-61.4l0 77.8l1.4-57.4l.8 42l-.2-56.4l1 67.8l1-45.8l1.5 47.1l.8-34.2l-.3 36.9l1-47.8l2 46.8l0-70.8l1.1 66.3l.9-63.7l1 57.2l0-61.8l1.4 60.3l.8-65.4l.8 64.9l0-67.8l2 77.8l.5-79.8l.6 57.2l-.1-61.2l1.4 90.8l1.6-86.8l.3 67.6l1-67.1l-.3 63.3l2-87.8l1 73.8l.5-69.4l.7 74l-.2-82.4l2 89.8l0-65.8l1.4 52.7l.9-45l.7 66.1l0-63.8l1.6 62.3l.4-56.3l1 73.8l1-69.8l1 75.8l1-105.8l.5 63.9l.6-64.9l-.1 86.8l1-91.8l2 71.8l.5-65.1l.6 58.8l-.1-57.5l2 53.8l1-65.8l.4 62.4l.7-55l.9 62.4l0-89.8l1.7 91.1l.3-101.1l1 103.8l1-101.8l.7 94l1.3-66l0 87.8l1.1-87.5l.9 101.5l1-111.8l.7 93l.7-70.6l.6 71.4l0-67.8l1.8 68.2l1.2-78.2l.4 99.8l.8-89.1l.9 80l.9-76.7l0 71.8l1.6-83.8l.4 73.8l0-79.8l1.9 82l.1-84l1 87.8l1.2-72.7l.8 89.7l0-98.8l1.6 89.8l.8-61.7l.6 73.7l0-85.8l2 73.8l0-65.8l1.4 61.7l.8-64.3l.8 64.4l0-67.8l1.6 77.8l.8-90.5l1 102.5l-.4-111.8l1.8 65.2l.6-86.2l.6 110.8l1-73.8l.9 54.7l.9-67.4l.2 70.5l1-79.8l1.1 78.2l.8-82.4l.1 82l1.4-85.8l1.1 80.8l.8-68.2l-.3 67.2l1-63.8l.6 95.8l1.8-97.3l.6 63.3l0-63.8l2 85.8l1-73.8l.5 76.5l.7-69.1l.8 74.4l2-77.8l0 29.8" fill="none" stroke="#61c8d7" stroke-width="2.2" stroke-linejoin="round" stroke-linecap="round"/>
</g>
<rect x="106.2" y="14" width="708.8" height="405.5" fill="none" stroke="#505050" stroke-width="1.35"/>
<text x="92.9" y="425.9" text-anchor="end" textLength="50.6" lengthAdjust="spacingAndGlyphs">0.00</text>
<text x="92.9" y="375.2" text-anchor="end" textLength="50.6" lengthAdjust="spacingAndGlyphs">0.10</text>
<text x="92.9" y="324.5" text-anchor="end" textLength="50.6" lengthAdjust="spacingAndGlyphs">0.20</text>
<text x="92.9" y="273.8" text-anchor="end" textLength="50.6" lengthAdjust="spacingAndGlyphs">0.30</text>
<text x="92.9" y="223.2" text-anchor="end" textLength="50.6" lengthAdjust="spacingAndGlyphs">0.40</text>
<text x="92.9" y="172.5" text-anchor="end" textLength="50.6" lengthAdjust="spacingAndGlyphs">0.50</text>
<text x="92.9" y="121.8" text-anchor="end" textLength="50.6" lengthAdjust="spacingAndGlyphs">0.60</text>
<text x="92.9" y="71.1" text-anchor="end" textLength="50.6" lengthAdjust="spacingAndGlyphs">0.70</text>
<text x="92.9" y="20.4" text-anchor="end" textLength="50.6" lengthAdjust="spacingAndGlyphs">0.80</text>
<text x="106" y="452.3" text-anchor="middle">0</text>
<text x="247.8" y="452.3" text-anchor="middle" textLength="43.8" lengthAdjust="spacingAndGlyphs">200</text>
<text x="389.6" y="452.3" text-anchor="middle" textLength="43.8" lengthAdjust="spacingAndGlyphs">400</text>
<text x="531.4" y="452.3" text-anchor="middle" textLength="43.8" lengthAdjust="spacingAndGlyphs">600</text>
<text x="673.2" y="452.3" text-anchor="middle" textLength="43.8" lengthAdjust="spacingAndGlyphs">800</text>
<text x="815" y="452.3" text-anchor="middle" textLength="58.4" lengthAdjust="spacingAndGlyphs">1000</text>
<rect x="614.4" y="333" width="187.4" height="79" fill="#fff" stroke="#0d0a0a" stroke-width="2.1"/>
<text x="751.5" y="352.5" text-anchor="end">apo</text>
<path d="M765.6 346.4H788.8" stroke="#ee6925" stroke-width="2.3" stroke-linecap="round"/>
<text x="751.5" y="378.9" text-anchor="end">holo</text>
<path d="M765.6 372.8H788.8" stroke="#0b9447" stroke-width="2.3" stroke-linecap="round"/>
<text x="751.5" y="405.3" text-anchor="end" textLength="129.8" lengthAdjust="spacingAndGlyphs">holo-GABA</text>
<path d="M765.6 399.2H788.8" stroke="#61c8d7" stroke-width="2.3" stroke-linecap="round"/>
<text x="461" y="492" text-anchor="middle" textLength="108.1" lengthAdjust="spacingAndGlyphs">Time [ns]</text>
<text transform="translate(20.9 216.5) rotate(-90)" text-anchor="middle" textLength="135.4" lengthAdjust="spacingAndGlyphs">RMSD [nm]</text>
<text x="8.6" y="539.6" style="font-size:57px;stroke:#fff;stroke-width:1.2px">A</text>
<path d="M106 943.6h4.5M815 943.6h-4.5M106 875.9h4.5M815 875.9h-4.5M106 808.2h4.5M815 808.2h-4.5M106 740.6h4.5M815 740.6h-4.5M106 672.9h4.5M815 672.9h-4.5M247.8 1011.3v-4.5M247.8 605.2v4.5M389.6 1011.3v-4.5M389.6 605.2v4.5M531.4 1011.3v-4.5M531.4 605.2v4.5M673.2 1011.3v-4.5M673.2 605.2v4.5" stroke="#505050" stroke-width="1" fill="none"/>
<g>
<path d="M106 869.1l0 13.8l2-11.8l0 13.8l1.6-7.8l0 7.8l1.4-27.8l0 5.8l1.4-9.7l.8 3.6l.8-8.2l.8 3.9l.7-6.6l1 2.1l.7-8.5l.9 3.2l.7-7.2l.8 4.4l.4-8.8l0 7.8l2.1-3.7l.8 9.3l.7-5.9l.7 9.1l.9-4.8l.8 7.9l.9-5.7l.7 8.9l.7-6l1 8.4l.7-5.3l0 7.8l2 12.2l0 17.8l1.3-19.7l.7 21.7l1-25.8l.6 24.9l.8-19l-.4 18.9l1-18.8l1 11.8l1.4-29.8l1.2 46.8l.6-32.2l.7 21.3l.1-17.9l1 11.8l1.4-9.9l.7 8.3l-.1-8.2l1 7.8l2-15.8l0 19.8l1.1-25.5l.9 25.7l0-34l.4 38.8l1-61.8l1.6 48.8l0-33.8l2 39.8l0-19.8l1.4 18.1l.8-11.3l.8 19l0-19.8l1.7 22.4l.3-10.4l0 13.8l2.1-11.5l.6 10.4l.9-8l.9 12.2l.8-8.6l.6 12.3l.9-9.4l.2 10.6l1-13.8l1 3.8l1 .5l1 5.5l0-3.8l1.3 4.4l.7-22.4l1 28.8l.9-41.7l.7 39.8l0-46.9l1.4 47.8l1-53.8l.8 55.5l1.2-55.5l0 56.8l1.1-39.4l.8 31.7l1.1-43.1l-.6 41.8l2-41.6l.6 59.6l1-61.8l1 60.8l.4-69.8l1.1 53.3l.5-50.3l1 49.8l.9-53.2l.6 44.2l.5-46.8l1 63.8l1-53.8l.9 48.5l.8-39.6l.3 36.9l.4-56.8l1.7 46.5l.9-27.5l0 25.8l1.3-29.4l.7 37.4l0-39.8l1.7 34.9l.3-44.9l.6 56.8l1.4-44.8l1 35.8l.9-28l.8 24.2l.3-20l1 21.8l1.1-19.6l.7 15.3l.2-18.5l1 28.8l1.2-29.6l.7 29.3l.1-31.5l1 38.8l1-36.8l1.2 31.7l.8-21.9l0 20l1-15.8l1.3 17l.9-26.6l-.2 31.4l1.4-53.8l1.1 62.1l.5-36.1l0 39.8l2-34.3l.7 40.9l.3-40.4l.4 42.8l1.8-41l.8 34l0-33.8l1.5 30.3l1-19.7l.1 27.2l.4-27.8l1.9 21.5l1.1-29.5l0 37.8l1.1-38.5l.9 39.4l1-40.7l.4 44.8l1-49.4l.7 35.1l.9-40.5l0 41.8l2-33.8l.3 28.4l1-28.6l-.3 30l2-31.8l.6 36.7l.8-40.3l-.4 41.4l2-47.8l.8 49.6l.7-42.7l.5 46.9l1-49.8l.9 38.4l.8-48.6l.3 44l.4-47.8l1.7 45.7l.9-33.7l0 37.8l1.5-28.2l.9 22.8l.6-18.4l0 17.8l1.9-24.8l.7 23l.4-28l0 33.8l2-28.7l1 40.7l0-41.8l1.6 45.8l.4-53.8l0 53.8l2-55.8l0 49.8l1.3-53l1 47.9l.7-51.7l0 52.8l1.7-51l.6 37.8l.7-38.6l0 39.8l2-35.8l.7 26.1l.8-14.3l-.5 18l1-13.8l2 27.8l1-41.8l.4 39.9l.7-25.7l.9 25.6l0-34.8l1.5 42.3l.9-27.8l.6 35.3l0-36.8l1.8 21.9l.6-29.9l.6 39.8l1.3-41.6l.7 40.3l0-42.5l1 45.8l1-37.8l1.3 44.2l.6-33.3l-.3 37.9l1.4-36.8l1 25.8l1.2-19.8l.8 16.7l0-14.7l1 21.8l1.5-40l.8 37.9l-.3-43.7l1 66.8l1-70.8l1.4 61.8l.6-74.8l1.1 65.8l.9-48.8l0 43.8l1.3-41.4l1 36.6l.7-39l0 39.8l1.6-37.8l.9 34.4l.5-40.4l0 39.8l1.8-40.6l.8 37.8l.4-41l0 41.8l1.9-28.7l1.1 32.7l0-40.8l1.3 32.7l.8-25.4l.9 25.5l0-29.8l1.7 34.1l.7-44.1l.6 47.8l1-27.8l.9 19.9l.7-16.3l.4 12.2l1-13.8l1.1 10.9l.9-2.9l0 1.8l1.3 4.5l.9 8.7l.8-5l0 9.8l1.5-8.7l1 7.1l.5-6.2l0 6.8l1.9-5.6l.5 13.6l1-15.5l.9 7.6l.6-10.9l.1 9.8l2-13.8l0 17.8l1.2-16.8l.8 10.4l.9-15.8l.1 14.2l1.4-15.6l.9 10.2l-.3-12.4l1 13.8l1.4-84.8l.9 69.6l.3-50.6l.4 61.8l2-63.8l.6 76.9l.4-22.9l1.4 41.8l.6-39.8l1 51.8l.6-51.6l.8 44.4l0-48.6l.6 45.8l2-37.8l0 41.8l1.3-40.2l.7 42.2l0-41.8l2 35.8l1-43.8l.4 42.7l.7-47.1l.9 50.2l0-53.8l1.6 49.1l.8-50.6l.6 47.3l0-51.8l1.8 48.5l1.2-47.5l0 46.8l1.2-44.8l.8 39.6l0-42.6l1 43.8l1-41.8l1.2 38.4l.8-26.4l0 25.8l1.6-23.8l.8 21.2l.6-24.2l0 24.8l1.8-24l.8 15.2l.4-15l0 13.8l2-9.8l1 11.8l1-31.8l.3 30.6l.8-28.9l.9 28.1l0-34.8l1.7 38.4l.3-31.4l1 35.8l1-21.8l.8 11.7l.8-8l.4 2.1l.6 .2l1.3-1.7l.7-20.3l.4 21.8l1.4-22.7l.8 28.9l-.2-30l2 35.8l1-43.8l.5 27.9l.8-22.7l.7 30.6l1-39.8l.6 38.2l.8-41.4l.6 47l.4-51.8l1.4 45l.6-33l.6 29.8l1.2-21.9l.8 24.6l0-22.5l1 27.8l1.5-27.1l.6 24.6l-.1-27.3l1 33.8l2-42.8l.5 33.5l.6-36l-.1 41.3l1-43.8l1.5 40.4l.9-27.4l-.4 32.8l1-35.8l1.6 51.8l1.4-45.8l.4 39.2l1.2-35.2l.4 29.8l0-35.8l1.6 37.9l.8-31.8l-.4 33.7l1-35.8l2 27.8l1-27.8l.3 31.5l1-30.4l.7 38.7l1-47.8l.6 49.4l.7-41.2l.7 47.6l0-60.8l2 72.8l1-67.8l.3 46.4l.8-41.3l-.1 54.7l2-49.8l.6 42.3l.8-31.5l-.4 31l2-47.8l1 63.8l.5-53.7l1 46.9l-.1-45l1.6 45.8l0-39.8l1.6 15.8l.4-25.8l1 23.8l1.1-24.1l.8 32.8l.1-36.5l1 43.8l1.1-45l.9 40.9l0-41.7l1 39.8l1.3-29.5l.8 36.3l-.1-44.6l1 51.8l2-39.8l0 45.8l1.1-48.4l1 48.6l.9-60l0 61.8l1.3-66.3l.7 54.3l1-59.8l.8 64.6l.8-60.2l.4 65.4l1-61.8l1 65.8l.9-48.5l.8 44.2l.3-51.5l1 51.8l1.1-46.3l.9 61.3l0-60.8l1.5 41.5l.8-41.9l-.3 48.2l1-51.8l1.6 55.9l.9-56.9l-.5 57.8l1-60.8l1 47.8l2-55.8l0 43.8l1.3-47.1l.7 31.1l0-33.8l1.7 22l.8-17l-.5 16.8l1-15.8l2 17.8l1-15.8l.3 14.4l.8-11.9l.9 11.3l1-17.8l.6 20.1l.8-20.4l.6 26.1l1-27.8l1 37.8l.7-35.7l.7 40.4l.6-40.5l0 48.8l2-54.8l.6 74.8l.8-52l.8 35.5l.8-50.3l0 43.8l1.7-40.8l.7 43.4l.6-42.4l0 43.8l1.9-40.8l.1 47.8l1-58.8l1.2 47.2l.8-56.2l0 60.8l1.5-53.9l1 45l.5-42.9l0 47.8l1.9-44.5l.7 38.5l.4-43.8l0 58.8l2-62.8l1 43.8l.6-43.7l.8 47l.6-53.1l1 57.8l.7-56.4l1 58.1l.3-57.5l1 66.8l1.4-73.8l.4 66l.9-60.7l.3 59.5l1-55.8l1 55.6l.8-52.8l.2 64l1-62.8l1.1 57.6l.8-54.3l.1 61.5l1-62.8l1.3 59.4l.8-55.9l-.1 55.3l1-54.8l1 25.8l1.4-29l.6 15l0-17.8l2 27.8l0-35.8l1.4 27.1l1-30.1l.6 34.8l.7-27.4l.9 32.5l.4-30.9l1 35.8l1.1-28.2l.9 29.2l0-30.8l1.4 22.9l.8-14.1l-.2 11l1-13.8l1.6 6.3l.9-1.7l-.5 1.2l1 .2l2-4.2l0 .2l1.3-.3l.7-13.7l1 13.8l1-27.8l.7 29.5l.7-29.5l.6 35.8l1-41.8l.8 30.2l1.2-36.2l0 51.8l1.2-50l.8 50.4l.4-56.2l.6 61.8l1.5-61.4l.8 49.1l-.3-49.5l1 55.8l2-59.8l.5 46.9l.7-41.2l-.2 50.1l1-47.8l1.7 45.7l.8-30.5l-.5 40.6l1-43.8l1.4 54.8l1.6-46.8l.3 29.7l.8-20.3l-.1 30.4l2-31.8l0 15.8l1.5-15.1l.5 23.1l0-29.8l1.7 36l.7-44l.6 48.8l1.1-32.9l.8 23.9l.1-31.8l1 31.8l1.5-24.1l.6 20.9l-.1-24.6l1 25.8l2-21.8l.4 23.1l.7-17.5l-.1 20.2l2-27.8l.5 24l.8-15.3l-.3 17.1l1-17.8l2 23.8l1-31.8l.3 27.7l.9-24.4l.2 24.5l1.6-37.8l.7 37.4l.6-31.2l-.3 45.6l2-39.8l1 21.8l.7-25.8l.8 28.2l.5-36.2l1 41.8l.9-35l.8 23.8l.3-22.6l1 13.8l.9-13.5l1 12.2l.1-16.5l1 21.8l1.3-19.7l.7 20.1l0-24.2l1 27.8l1.3-30.6l1 33.5l-.3-34.7l1 37.8l1.4-71.8l1.1 43.9l.1-79.9l.4 97.8l2-21.8l.7 21.8l.6-28.3l-.3 28.3l2.1-30.3l.9 38.3l0-49.8l1.4 49.8l.2-81.8l1.5 68.2l.8-41.4l.8 46.5l.3-61.3l1.2 56.1l.8-16.1l1 29.8l.5-14.4l1 11.7l.5-9.1l1 7.8l1-15.8l.6 23.8l.9-18.1l.1 24.1l1.4-21.8l1 7.8l.6-9.4l.7 5.8l.7-14.2l1 13.8l.8-12.1l.8 15.4l.4-23.1l1 27.8l1.1-30.6l.6 26.2l-.1-27.4l1.4 31.8l1.1-25.1l.9 24.5l0-23.2l1 29.8l1.3-24.8l.7 26.8l0-29.8l1.9 22.4l1.1-22.4l0 17.8l1.2-35.9l.9 35.1l.9-65l0 69.8l1.6-25.8l.6 21l.7-13.6l1.1 14.4l0-9.8l1.4 8.4l.7-7.9l.9 7.3l0-9.8l1.6 10.8l.8-6l.6 7l0-5.8l1.7 7.5l1.3-7.5l0 9.8l1.3-6.1l.7 6.1l1-5.8l0 9.8l1.3-7.9l.8 4.9l.9-7.9l0 6.9l1.5-6.4l.9 7.8l.9-8.7l.3 14.3l1.4-16.8l.7 10.3l.7-10.5l.6 6l1.1-7.2l.7 4.4l.8-5.3l.9 5.6l.6-5.8l1 4.3l.9-5.8l0 5.8l1.5-5.9l.7 2.7l.8-3.4l.9 2.9l1.1-4.1l0 3.8l1.2-4l.7 6.7l.9-8.4l.8 10.4l.7-11.4l.7 13.7l1-14.8l.9 8.2l.6-13.7l.9 13.8l.8-24.5l-.2 24l2-37.8l.7 39.4l.7-49.2l-.4 61.6l1.4-93.8l1.4 87.5l.6-65.5l1.1 51.4l.8-37.9l.6 38.3l1.1-31.8l0 39.8l1.4-43.9l.8 44.5l.9-54.7l-.1 57.1l2-69.8l.5 71.5l.6-57.3l1 56.9l.6-57.3l.8 53.1l.9-51.7l.7 48.9l-.1-61.1l2 73.8l.6-63.5l.8 60.9l.6-57.2l.9 57.4l1.1-74.4l.7 59l.7-50.3l.8 61.1l.8-66.2l.7 70.6l.3-73.2l1.5 70.1l.8-70l.8 67.2l.8-59.1l.7 63.6l.4-81.8l0 69.8l1.9-69.9l.8 55.2l.3-61.1l1.5 71.4l.6-67l.8 69.7l.1-72.1l1.5 61.1l1-50.8l-.5 61.5l1-73.8l1.9 75.1l1.1-81.1l.4 81.2l.7-75.7l.9 62.9l0-66.4l1.5 74.7l.5-70.7l0 77.8l2-71.8l.9 73.8l.7-52.7l.4 54.7l1.2-69.9l.7 67.2l.8-65.1l.3 65.8l1-65.8l1.2 73.2l.8-69.4l-.4 75l2-68.1l.4 64.1l1.1-57.5l.9 48.4l0-57.7l1 65.8l1.4-48.1l.7 31.6l.9-29.8l0 32.3l2-23.8l0 25.8l1.3-21.2l1.7-16.8l0 2.2" fill="none" stroke="#ee6925" stroke-width="2.2" stroke-linejoin="round" stroke-linecap="round"/>
<path d="M106 741.1l.6 57.8l0-69.8l1.8 67.4l.6-47.4l0 47.8l1.7-36.3l.9 50.3l.4-67.8l1.3 50l.7-92l0 89.8l1.4-101.8l1 93l.9-87.4l.6 87l.1-85.6l1.6 89.4l.4-72.4l0 75.8l2-57.8l.9 60.2l1.1-50.2l.5 41l.6-40.3l.9 52.4l0-59.1l1 61.8l1.4-52l.7 51.9l-.1-49.7l1 49.8l1.4-60.8l1 60.5l1.2-55.5l-.6 57.8l1.8-62.4l.8 72.4l0-81.4l1.7 65.6l.7-46l0 39.8l2-31.8l0 23.8l1.1-15.5l.9 29.2l1-27.5l0 36.8l1.4-42.1l.6 37.1l1-47.8l.8 35.7l.8-35.9l.4 34l1-37.8l1.1 24.5l.9-32.5l.6 39l.8-36.6l.7 40.3l-.1-48.3l2 47.4l0-37.8l1.4 45.1l.9-39.5l.7 52.2l0-51.8l1.6 48.6l1-74.6l0 95.8l1.8-103.8l-.4 73.8l1.6-66l.8 68l0-78.8l1.2 114.8l.4-87.8l1.6 69l.4-33l0 29.8l2-45.8l0 61.8l1.7-72.8l.3 56.8l1-66.8l1 50.8l.7-43.8l.9 41.9l0-39.9l1.6 24.9l.8-51.9l.9 54.2l.7-53.2l.4 63.8l1.6-41.8l.3 38.4l1.1-18.4l.7 18.6l.6-17.3l.8 18l-.1-19.3l1.8 12.6l.2-19.6l1.4 23.9l.8-25.9l.8 26.8l0-31.4l1.5 28.4l.5-16.8l1.2 19.6l.8-25.6l0 25.8l2-17.8l.4 18.8l.7-22.7l.3 25.7l.6-28.8l1.7 30.2l.9-40.2l-.6 46.8l2-42.9l1 22.9l0-20.8l1.4 26.3l.9-19.1l.7 25.6l0-27.8l1.5 22.6l.5-29.6l1 44.8l1-32.6l.8 27.3l.2-39.5l1 36.8l1.2-26.9l.9 20l-.1-24.9l1 21.8l1.4-23.2l.8 17.9l-.2-32.5l1 49.8l2-54.2l.4 43.6l.8-30.9l-.2 29.5l1-33.8l1.6 25.7l.7-16.8l-.3 24.9l1-30.8l1.7 34.7l1.3-38.7l-.6 58.8l1.8-53.1l.8 29.1l0-33.8l1.5 36.7l.5-51.1l1 80.2l1.4-65.8l.4 66.7l.8-50.4l.4 53.5l1-81.8l1 78.7l.9-64.7l.1 63.8l.4-61.8l1.8 52.9l.8-59.9l0 58.8l2-49.8l.4 57.8l.7-58.2l1 55.6l.9-57.2l0 62.8l1.4-61.2l.7 49.1l.5-56.7l.4 57.8l2-51.8l.4 37l.7-28.9l-.1 33.7l1.4-39.8l1.2 33.8l.9-30.1l-.5 30.1l1-44.8l2 54.8l0-43.8l1.3 53.9l.9-34.3l.8 48.2l-.4-65.8l2 55.3l.4-64.3l.4 70.8l2-61.8l.6 55.8l.5-64l1.1 62l.4-65.8l0 33.8l1.7-42.3l.7 46.3l0-50.2l1.7 54.6l.9-38.2l0 41.8l1.6-40.7l.7 37l.7-39.1l0 38.8l1.7-35l.9 28.5l.4-31.3l0 45.8l1.9-42.9l1.1 54.9l0-53.8l1.5 53.6l.6-53l.9 57.2l0-63.8l1.6 61.6l.9-62.1l.5 60.3l0-61.8l1.8 52.2l1.2-51.2l0 60.8l1.2-58.2l.9 52.2l.9-54.8l0 56.8l1.4-64.3l.9 60.5l1.1-72l-.4 83.8l1.7-56.1l.7 42.9l.6-54.6l0 55.8l1.9-40.8l.6 34.8l.5-50.8l0 58.8l1.9-45.1l1.1 45.1l0-47.8l1.5 33.4l.6-33.6l.9 46l0-53.8l1.5 56.8l.8-55.6l.7 58.6l0-63.8l1.8 57.8l.6-55.8l0 72.8l2-84.4l.6 75.4l.9-64.9l.7 56.7l.4-49.6l0 53.8l2-46.6l1 50.6l0-49.8l1.4 52.5l.7-39.4l.5 45.7l.4-66.8l1.6 53.1l.4-62.1l0 62.8l2-49.3l1 63.3l-.4-78.8l1.8 63.7l.6-55.7l1 58.8l.9-57.1l.7 55.3l.4-68l1 69.8l1-100.8l1 86.8l1-85.8l.3 67.8l.8-73.1l-.1 79.1l1.4-85.4l.2 69.4l2-57.8l0 69.8l1.3-42.7l1.1 54.7l0-65.8l1.4 57.7l.6-43.7l0 67.8l2-77.8l0 71.8l1.4-78.6l.6 64.6l0-72.8l1.9 77.4l.5-66.4l.6 69.8l1.1-56.8l.9 52.8l0-69.8l1.6 70.5l.8-70.3l.6 79.6l0-81.8l1.8 63.6l.2-71.6l1 81.8l1-75.8l1 67.7l1-93.1l0 91.2l1.5-68.9l.7 65.9l-.2-60.8l1 59.8l2-67.8l.5 68.1l.6-62.1l-.1 69.8l1-78.8l1.6 70.6l1-86.6l-.6 86.8l2-75l1 79l0-71.8l1.3 81.3l.8-80.6l-.1 87.1l1-88.8l1.7 86.6l.7-71.3l-.4 71.5l1-67.8l2 53.8l0-73.8l1.3 65.7l.9-60.1l-.2 62.2l1-66.8l1.6 74.5l1-53.5l-.6 55.8l2-59.2l1 65.2l.4-89.8l.9 82.4l1-62.8l-.3 66.2l1-59.8l1.7 72.6l.6-74.5l-.3 77.7l1-79.8l1.6 47.8l.4-59.8l1.5 48.5l.7-51.3l-.2 76.6l1-78.8l1.7 64l.7-66.4l-.4 69.2l1-69.8l2 81.8l0-71.8l1.4 71.6l.9-64.3l.7 76.5l0-75.8l1.6 42.6l.9-57.1l.5 70.3l.4-76.8l1.4 77.5l1.2-62.5l0 65.8l1.2-47.7l.9 51.1l.9-61.2l0 63.8l1.3-57.7l1 62l.7-60.1l0 61.8l2-51.8l.4 51.5l.9-46.3l-.3 54.6l1.6-75.8l1 59.2l.9-54.5l-.5 63.1l1-62.8l2 64.8l1-67.8l.4 64.6l1.2-60.6l.4 61.8l0-63.8l1.5 56.6l.5-60.6l0 59.8l2-83.8l0 87.8l2-57.8l.4 65.4l.9-37.2l-.3 53.6l1-61.8l1.7 54.1l.7-51.6l-.4 53.3l1-62.8l2 64.8l1-53.8l.4 57l.8-50.7l.8 59.5l1-51.8l.6 49.5l.8-51l.6 49.3l1-66.8l.8 67.9l.8-61.1l.4 64l1-73.8l1 81.8l1-107.8l.6 87.2l.8-78.6l.6 79.2l1-73.8l.8 81.8l.8-75.3l.4 81.3l1-83.8l1 58.2l.8-67.7l.2 75.3l1.4-88.8l.8 72.4l.8-55.6l-.4 54l1.4-53.8l1 63.8l1-64.8l1.1 58.2l.7-64.7l.2 65.3l.4-87.8l1.9 85.9l.3-79.9l.4 91.8l2-61.8l.4 50l.8-54.1l-.2 73.9l2-84.8l.7 70.1l.6-68.9l-.3 67.6l1-68.8l2 64.8l1-59.8l.3 61.9l1-54.1l-.3 56l2-69.4l.7 81l.8-66.8l-.5 73.2l2-69.8l1 59.8l.7-53.2l.6 54l.7-49.6l1 56.8l.7-59.8l.9 59.7l.4-65.7l1.2 65.4l.8-64.3l0 68.7l1-83.8l1.5 67.2l.9-72.2l-.4 69.8l1.7-59.4l.9 73.9l.4-77.3l0 81.8l2-45.8l1 41.8l1-75.8l.5 58.2l.6-54.9l.9 68.5l1-64.8l.5 58.9l1-43.4l.5 53.3l1-69.8l.8 54.2l1.2-58.2l0 65.8l1.3-66.1l.7 52.1l0-66.8l1.7 69.7l.8-63l.5 66.1l0-68.8l1.9 63.4l.7-56.4l.4 73.8l1.2-71l.9 60.5l-.1-59.3l1 68.8l1.5-57.7l.7 55.5l-.2-53.6l1 54.8l2-61.8l.5 58.1l.7-49.2l-.2 62.9l2-63.8l.6 52.1l.9-52.8l-.5 52.5l2-54.8l0 48.8l1.7-46.4l.8 54.9l.5-58.3l0 61.8l1.8-49.7l.9 47.7l.3-57.8l0 65.8l2-61.2l1 53.2l0-68.8l1.4 64.9l.8-53.8l.8 59.7l0-63.8l1.5 42.4l.9-46.4l.6 63.8l1.1-63.2l.7 61.8l.2-77.4l1 76.8l1.3-69.2l.6 60.5l.1-59.1l1 63.8l1.4-57.3l.7 43.2l-.1-49.7l1 63.8l2-64.8l.3 49.3l1-65.6l-.3 66.1l1.4-92.4l.6 123.4l1-75.8l1 74.8l1.1-76l.9 73l0-73.8l1.5 62.3l.6-59.8l.9 65.6l0-72.1l1.7 67.9l.8-65.1l.7 46l-.2-48.8l1 65.8l2-45.8l.4 40.5l.8-38.2l.8 38.4l1-56.7l.7 56.1l.8-46.5l.8 43.8l.7-75l0 75.4l1.5-75.4l.8 76.3l.7-76.7l1 72.6l.8-68.7l.9 72.2l-.1-75.1l1.7 76.5l.7-78.5l0 84.8l1.5-75.5l.9 61.4l0-59.7l1.5 70.2l1.1-82.2l0 71.8l1.4-77.9l.7 60.3l.9-69.2l0 76.8l1.7-53.6l.7 51.7l.6-63.9l0 71.8l1.8-70.2l.8 50.4l.4-50l0 61.8l2-63l1 65l0-66.8l1.5 60.5l.9-117.5l.6 111.8l.9-109.8l.6 104.1l.5-104.1l1 107.8l1-91.8l1 81.8l.7-96.7l.7 109l0-116.5l.6 128.2l1-75.8l1.5 71.5l.5-75.1l0 75.4l2-57.8l1 55.8l.7-59.2l.8 55.6l-.1-63.2l1.6 68.8l1-67.8l.5 70.1l.9-60.6l.6 66.3l.4-61.8l1.6 57.8l1-66.8l.3 74.8l.9-65.5l.2 71.5l.6-65.8l1.6 41.1l.9-44.9l-.5 59.6l1-61.8l2 65.8l1-61.8l.5 54.9l.7-55.5l.8 54.4l1-61.8l.6 48.3l.9-40.5l.5 48l1-68.2l.8 69.9l.7-58.9l.5 61.2l1-63.8l1 64.2l1-56.2l0 65.8l1.4-45.9l.7 56.7l-.1-60.6l1 65.8l2-74.8l.4 68l.8-55l-.2 53.8l2-57.8l.6 48.6l.7-53.5l-.3 66.7l2-72.8l1 78.8l.5-74.2l.9 63.8l.6-61.4l1 57.8l.9-60.7l.7 64.7l.4-85.4l1 91.4l1-61.8l.8 47.6l.7-45l.5 63.2l1-63.8l1 45.7l.9-41.1l.1 61.2l1-64.8l1.2 61.2l.9-46l-.1 47.6l1-66.8l1.5 66.7l.9-67.7l-.4 71.8l1.9-76.5l.6 77.2l.5-81.5l0 83.8l2.1-74.4l.9 71.4l0-67.8l1.4 67.4l1-59.4l.6 61.8l.8-60.9l.7 48.9l.5-62.8l1 82.8l1-57.8l.8 60.9l1.2-64.9l0 69.8l1.2-62.6l.8 63.6l.4-82.8l1.2 68.3l.9-61.1l.5 66.6l0-65.8l1.7 54l1.3-58l0 65.8l1.1-61.7l.8 66.1l.5-76.2l.6 79.8l1.4-66.9l.6 74.9l0-77.8l1.8 58.9l1.2-56.9l0 63.8l1.2-63.4l.8 54.8l.4-58.2l.6 66.8l1.3-61.9l.9 65.8l-.2-65.7l1 67.8l2-55.8l.3 51l.8-48l-.1 50.8l2-81.8l.5 60.7l.9-59.1l-.4 72.2l2-72.8l1 82.8l1-59.8l.4 56l.9-46.5l.7 44.3l0-70.8l1.5 62.7l.9-56.5l.6 68.6l0-73.8l2 65.8l0-76.8l1.5 78.4l.9-65.4l.6 67.8l.9-60.7l.8 61.1l.3-58.2l1 62.8l1-64.9l.8 64.2l.2-66.1l1 67.8l1.2-58.4l.8 55.9l0-62.3l1 62.8l1.3-67.6l.8 60.7l-.1-67.9l1 66.8l1.7-67.2l.8 63.2l.5-63.8l0 63.8l1.8-49.9l.8 57.9l.4-53.8l0 57.8l2.1-62.8l.9 66.8l0-69.8l1.3 49.5l1-45.7l.7 54l0-58.8l1.6 54.8l.4-57.8l0 61.8l2.4-57.8l.6 49.8l.7-49.8l.6 50.1l.7-52.1l1 59.8l.7-66.8l1 61.6l.3-68.6l1 69.8l1-75.8l.6 65.8l1.4-53.8l.4 59.5l.8-50.6l-.2 52.9l2-51.8l.6 52.4l.8-50.1l-.4 51.5l2-51.8l1 59.8l.7-59.8l.6 34.8l.7-36.8l0 45.8l1.8-47.6l.7 55.4l.5-59.6l0 63.8l1.6-67.8l1.4 69.8l1-53.8l.4 43.6l.8-38l.8 34.2l1-41.8l.6 39.5l.8-47.8l.6 48.1l0-56.8l1.8 50l.2-53l1 53.8l1-37.8l2 23.8l0-11.8" fill="none" stroke="#0b9447" stroke-width="2.2" stroke-linejoin="round" stroke-linecap="round"/>
<path d="M106 801.1l.6 111.8l0-111.8l1 77.8l1.4-77.8l0 63.8l1.8-50.5l.2 58.5l.6-59.8l.8 65.8l1.6-89.8l.4 77.8l1.6-87.8l0 67.8l1.3-64.1l.7 62.1l1-61.8l.5 67.2l.9-49.4l-.4 52l2-63.8l0 69.8l1.6-63.5l0 52.5l1.4-62.8l.6 63.8l1.1-54.4l.9 72.4l.4-67.8l1.3 67.5l.7-66.9l0 71.2l1-71.8l1 67.8l1-61.8l1.1 56l.8-51.2l.1 49l.6-47.8l1.4 51.8l1-73.8l1 59.8l.6-77.8l.8 83.9l1-65.9l-.4 69.8l2-54.8l0 62.8l1.4-65.3l.9 68.1l.7-72.6l0 75.8l1.7-80l.7 64.8l.6-80.6l0 81.8l2-95.8l0 81.8l1.4-84.8l0 80.8l1.6-56.3l1 74.3l-.6-85.8l2 91l.6-65l0 67.8l1.7-44.8l.3 64.8l1-69.8l1 77.8l1-65.8l.4 82.8l1.6-82.8l0 67.8l1.3-72.1l.6 62.5l.1-66.2l1 65.8l1.5-75.4l.5 79.4l0-85.8l2 87.8l0-73.8l1.3 61.1l.7-79.1l0 73.8l1.8-84.3l.2 64.3l.6-69.8l1.4 63.8l1-73.8l.8 70.9l1.2-74.9l0 76.8l1.2-75.9l.9 64.4l.9-63.3l0 80.8l1.3-74.1l.7 71.1l1-77.8l1 69.8l1-70.8l.4 62.4l.9-59.3l-.3 69.7l2-65.8l.5 52l1-46.4l-.5 55.2l1-62.8l2 69.8l1-61.8l.4 67.1l.8-60l.8 66.7l.4-61.8l1.2 55.5l.8-64.1l.6 62.4l0-65.8l2 57.8l.4-69.8l.9 64.7l.9-53.2l.8 74.3l0-71.8l1.5 73.2l1-63l.5 69.6l0-67.8l1.8 66.5l1.2-76.5l0 75.8l1.2-77.4l.7 62.3l1.1-71.7l0 82.8l1.5-56.5l.5 66.5l1-79.8l.7 65.8l.9-68.9l.4 90.9l.4-97.8l.6 93.8l2-97.8l-.6 85.8l2.1-72l-.5 82l2-71.8l1 77.8l1-65.8l.5 66.4l.8-82.2l.7 83.6l0-103.8l1.5 82.5l.5-58.5l1 90.8l1-78.3l.8 70l.2-70.5l1 69.8l1.3-71.3l.8 62.1l-.1-64.6l1 71.8l1.5-62.6l.6 33.2l-.1-52.4l1 71.8l1-63.8l1 71.8l1-69.8l1.1 50l.7-49.2l.2 67l1-66.8l1.3 58.1l.8-63.4l-.1 62.1l1-65.8l1.5 65.6l.7-63.4l-.2 67.6l1-79.8l1 65.8l1-73.8l1.1 79.7l.8-67.6l.1 73.7l1-71.8l1.5 83l.8-57.4l-.3 60.2l.6-63.8l1.9 50.9l.5-56.9l0 57.8l2-61.6l1 65.6l0-67.8l1.6 71.8l.4-93.8l0 93.8l2-89.8l0 77.8l1.4-86.4l.8 79.6l-.2-85l1 83.8l2-73.8l.5 57.2l.6-40.3l-.1 56.9l2-75.8l.6 100.4l.8-88l-.4 95.4l1-93.8l1 101.8l2-97.8l0 63.8l1.3-57.9l.8 66.1l.9-68l0 77.8l1.3-79.6l.9 82.2l-.2-84.4l1 85.8l2-71.8l.4 58.2l.7-60.7l-.1 58.3l2-65.8l.6 65.5l.9-56l-.5 64.3l2-65.8l1 77.8l1-53.8l.4 64.1l.7-60.2l-.1 67.9l1-81.8l1 67.8l1.4-81.5l.6 61.5l0-65.8l1.7 35.6l.3-49.6l1 63.8l1.1-52.7l.9 68.7l0-81.8l1.6 66.3l.4-58.3l0 77.8l1.9-57.2l1.1 51.2l0-61.8l1.4 53.2l.9-60.3l.7 62.9l0-65.8l1.7 66l.3-70l1 73.8l.9-58.8l.9 58.3l.2-69.3l1 73.8l1.3-60.4l.7 40.9l0-42.3l1 59.8l1.5-57.2l.5 51.2l0-56.8l2 76.8l1-67.8l.5 57.9l.7-35l.8 48.9l1-65.8l.7 67.7l.7-62.9l.6 73l0-71.8l1.9 72.8l1.1-76.8l0 79.8l1.3-65.8l.7 69.8l0-63.8l1.6 72l.4-63l0 65.8l2-86.8l0 71.8l1.7-70.4l.6 67l.7-66.4l0 71.8l1.8-74.9l.6 59.9l.6-64.8l1.3 51.3l.7-47.3l0 61.8l1.5-67.3l.5 66.3l.4-69.8l1.6 87.8l0-70.8l1.5 56l1-50.7l-.5 52.5l1-67.8l1 59.8l2-71.8l0 69.8l1.1-53.3l1 55.8l-.1-56.3l1 61.8l1.3-59.2l.7 61.2l0-61.8l1.9 72.1l.1-64.1l.4 69.8l1.6-101.8l.4 69.8l1.6-79.8l0 61.8l1.4-58.8l.9 47.1l.7-54.1l0 77.8l1.5-75.3l.9 72.6l.6-73.1l0 75.8l2-90.8l0 74.8l1.6-47.8l.4 69.8l1.1-55.3l.9 63.3l0-55.8l1.4 55.5l.6-67.5l1 67.8l.8-62.3l.9 45.5l.3-43l1 61.8l1-75.8l1 57.8l.5-56.7l.9 53.2l.6-68.3l0 67.8l1.8-44.4l.2 46.4l1-63.8l1 73.8l1-61.8l.9 71.3l.7-75.9l.4 82.4l1-121.8l1 97.8l1-69.8l.5 67l.9-67.8l.6 68.6l1-71.8l.9 61.4l.7-58.4l.4 60.8l1-59.8l.9 51.6l.9-54.5l.2 56.7l1-60.8l1.4 54.8l.6-53.7l.7 61.3l.3-61.4l1 69.8l1.2-67.7l.7 71.4l.7-76.5l.4 78.8l1.3-74.8l.8 62.2l-.1-63.2l1 71.8l1-73.8l1 65.8l1.1-65.3l.9 61.3l0-62.8l1.5 68l.9-57.4l.6 62.2l0-61.8l1.8 65.2l1.2-57.2l0 59.8l1.6-65.8l.4 65.8l0-65.8l1.5 66.9l.5-65.9l1 68.8l.9-60.2l.9 58.8l.2-62.4l1 63.8l1.2-66.1l.9 53.1l-.1-56.8l1 61.8l1.4-71.8l.6 66.8l1.1-57.1l.7 59.4l.2-55.1l1 57.8l1-67.8l1 74.4l.8-46.2l.2 49.6l1-65.8l1.2 58.4l.8-54.4l0 55.8l1-57.8l1.4 69.8l.7-65.6l.9 77.6l0-77.8l1.6 63.9l.9-62.4l-.5 60.3l1-65.8l2 61.8l1-63.8l.4 60l.9-54.3l.7 56.1l1-65.8l.5 50.8l.8-35.7l.7 52.7l.6-73.8l1.2 79.5l1.2-69.5l0 75.8l1.1-63.3l.8 43.6l1.1-50.1l0 55.8l1.5-55.3l.7 34.1l-.2-46.6l1 57.8l2-53.8l.5 58.8l.7-57.2l-.2 60.2l1.6-69.8l1 78.2l.9-55.6l-.5 57.2l1-61.8l2 67.8l1-77.8l.4 75.2l.8-69.4l.8 68l1-65.8l.6 45.6l.8-24.9l.6 41.1l0-57.8l1.8 52.5l1.2-62.5l0 59.8l1.3-57.8l.7 51.8l1-61.8l.6 61.1l.7-55.8l.7 62.5l1-59.8l.9 60.3l.7-47.4l.4 48.9l1-51.8l1 38.2l.9-44.3l.1 53.9l1-59.8l1.2 48.5l.7-50.8l.1 60.1l1-65.8l1.3 67l.8-55.5l-.1 56.3l1-63.8l1 57.8l1.4-67.8l.7 58.1l.9-43l0 60.7l1-59.8l1.3 52.2l.8-50.8l-.1 62.4l1-67.8l1.6 57.8l.9-52.9l-.5 54.9l1-65.8l1 56.8l1-60.8l1.3 57.6l.8-46.2l-.1 58.4l1-71.8l1.6 67.8l.8-51.1l-.4 53.1l1-63.8l1 59.8l1-69.8l1.3 57.1l1-51.9l-.3 58.6l1-59.8l1.6 51.6l.8-40.2l-.4 50.4l1-73.8l1.4 64.8l.6-54.8l1.4 56.7l.9-54.3l-.3 63.4l1-63.8l1.6 66.7l.9-53.6l-.5 54.7l1-63.8l2 65.8l1-67.8l.5 64.5l.6-65.2l.9 72.5l1-75.8l.6 70.6l.7-70.8l.7 70l1-71.8l1 63.8l.6-61.8l.9 56.6l-.1-62.6l1 62.8l1.6-67.8l.6 76.3l.8-57.1l-.4 59.6l2-65.8l1 71.8l.5-60.9l.9 62.4l.6-59.3l1 63.8l.9-47l.6 48.6l.5-65.4l1 69.8l1-77.8l1 69.8l1-85.8l.3 76.8l.9-80.3l-.2 77.3l1-98.8l1 86.8l1-71.8l1.3 53.1l.8-56.5l-.1 69.2l1-71.8l1 65.8l1.6-85.8l.8 72.8l.3-56.9l1 57.4l.3-51.3l1 59.8l1-65.8l.8 49.6l.7-53.2l.5 63.4l.6-67.8l1.4 77.8l1-57.8l.7 56.8l.8-47.6l.5 60.6l0-71.8l1.8 66.4l1.2-64.4l0 77.8l1.1-68l.8 64.2l1.1-58l0 67.8l1.5-74l.5 68l1-77.8l1 67.8l1-69.8l.3 61.8l.8-49.8l.9 67.8l1-71.8l.6 73.5l.7-65.2l.7 67.5l1-71.8l.8 72.6l.8-65.4l.4 68.6l1-71.8l1.1 66.6l.9-56.6l0 59.8l1.3-46.8l.7 54.8l0-55.8l1.9 50.4l.1-64.4l1 61.8l1.2-54.6l.8 49.2l0-60.4l1 59.8l1.5-60.8l.7 66.5l-.2-67.5l1 69.8l2-71.8l.5 45.8l.7-45.2l-.2 59.2l2-59.8l.7 53.5l.7-54.9l-.4 69.2l2.1-70.6l.9 66.6l0-68.8l1.5 67l.8-56.6l.7 56.4l0-61.8l1.6 55.5l.8-47.7l.6 50l0-63.8l1.8 71l.6-73l.6 81.8l1.3-55.8l.7 45.8l0-57.8l1.6 75.4l.4-81.4l0 87.8l2-71.8l0 79.8l2-81.8l.4 88.7l.8-80.2l-.2 82.3l2-78.8l.6 73.3l.9-72.9l-.5 75.4l2-87.8l1 77.8l.6-71.9l.9 65.7l.9-79.6l.6 73.8l.7-69.1l1 87.3l.3-84l0 89.8l2-94.3l0 74.3l1-77.8l1.5 66.2l.5-71.2l0 70.8l1.8-71.2l.8 59.7l.4-60.3l0 65.8l1.9-63.9l1.1 59.9l0-65.8l1.4 68.7l.7-58.8l.9 63.9l0-63.8l1.5 60.3l1-48.6l.5 62.1l0-65.8l1.7 67.4l1.3-69.4l0 75.8l1.4-82.8l.6 86.8l.9-57.6l.6 58.8l.5-75l1 77.8l.9-78.9l.9 73.4l.2-76.3l1 73.8l1.3-78.6l.8 75.9l-.1-79.1l1 79.8l1-83.8l1.2 84.3l.8-72.3l0 75.8l2-65.8l.5 64.1l.7-62.3l-.2 74l2-73.8l.6 67.2l.7-54.6l-.3 57.2l2-71.8l1 73.8l.5-49l.8 45.7l.7-62.5l1 69.8l.8-59.4l.7 45l.5-63.4l1 67.8l.9-72.8l1 75.1l.1-80.1l1 81.8l1.1-83.7l1 58.4l-.1-59.5l1 76.8l1.4-54.3l1 68.3l-.4-83.8l1.7 72.8l1.3-74.8l0 65.8l1.2-53.8l.9 52.1l.9-56.1l0 55.8l1.5-56.5l.7 54.4l-.2-63.7l1 63.8l2-61.8l.4 50.9l.9-44.5l-.3 61.4l2-74.8l.5 84.1l.9-79.4l-.4 86.1l2-81.8l1 55.8l.6-44.7l.8 38.2l.6-51.3l1 67.8l.8-49.7l.9 30.3l.3-50.4l1 73.8l1-71.8l.7 65l.8-49.8l.5 72.6l1-77.8l1 86.8l.7-79l.9 78.2l.4-74l1 74.8l.9-56l.8 48.6l.3-69.4l1 71.8l1.1-78.3l.8 65.9l.1-69.4l1 75.8l1.4-65.7l.8 62.5l-.2-60.6l1 69.8l2-73.8l.3 67.4l1-65.4l-.3 63.8l1.9-59.6l.7 55.6l.4-79.8l0 67.8l2-61.4l0 57.4l1-79.8l1.4 65.3l.9-50.8l-.3 75.3l1-71.8l1.7 62.5l.7-66.4l-.4 65.7l1-67.8l2 75.8l0-61.8l1.5 57.8l.7-48.3l.8 48.3l0-49.8l1.6 50.4l.8-56l.6 57.4l0-59.8l1.8 45.6l.2-63.6l1 76.8l1-89.8l.9 81.6l1.1-70.6l0 73.8l1.3-72.4l1 61.8l.7-61.2l0 69.8l1.7-67.7l.8 68.5l.5-68.6l1.4 49.8l.6-65.8l.6 76.6l.8-72.8l-.4 78l1-83.8l2 85.8l1-91.8l0 69.8l1.3-76.2l1.7 64.2l0-69.8" fill="none" stroke="#61c8d7" stroke-width="2.2" stroke-linejoin="round" stroke-linecap="round"/>
</g>
<rect x="106.2" y="605.2" width="708.8" height="406.1" fill="none" stroke="#505050" stroke-width="1.35"/>
<text x="92.9" y="1017.7" text-anchor="end" textLength="50.6" lengthAdjust="spacingAndGlyphs">3.10</text>
<text x="92.9" y="950.0" text-anchor="end" textLength="50.6" lengthAdjust="spacingAndGlyphs">3.15</text>
<text x="92.9" y="882.3" text-anchor="end" textLength="50.6" lengthAdjust="spacingAndGlyphs">3.20</text>
<text x="92.9" y="814.6" text-anchor="end" textLength="50.6" lengthAdjust="spacingAndGlyphs">3.25</text>
<text x="92.9" y="747.0" text-anchor="end" textLength="50.6" lengthAdjust="spacingAndGlyphs">3.30</text>
<text x="92.9" y="679.3" text-anchor="end" textLength="50.6" lengthAdjust="spacingAndGlyphs">3.35</text>
<text x="92.9" y="611.6" text-anchor="end" textLength="50.6" lengthAdjust="spacingAndGlyphs">3.40</text>
<text x="106" y="1044.1" text-anchor="middle">0</text>
<text x="247.8" y="1044.1" text-anchor="middle" textLength="43.8" lengthAdjust="spacingAndGlyphs">200</text>
<text x="389.6" y="1044.1" text-anchor="middle" textLength="43.8" lengthAdjust="spacingAndGlyphs">400</text>
<text x="531.4" y="1044.1" text-anchor="middle" textLength="43.8" lengthAdjust="spacingAndGlyphs">600</text>
<text x="673.2" y="1044.1" text-anchor="middle" textLength="43.8" lengthAdjust="spacingAndGlyphs">800</text>
<text x="815" y="1044.1" text-anchor="middle" textLength="58.4" lengthAdjust="spacingAndGlyphs">1000</text>
<rect x="614.4" y="924.3" width="187.4" height="79" fill="#fff" stroke="#0d0a0a" stroke-width="2.1"/>
<text x="751.5" y="943.8" text-anchor="end">apo</text>
<path d="M765.6 937.7H788.8" stroke="#ee6925" stroke-width="2.3" stroke-linecap="round"/>
<text x="751.5" y="970.2" text-anchor="end">holo</text>
<path d="M765.6 964.1H788.8" stroke="#0b9447" stroke-width="2.3" stroke-linecap="round"/>
<text x="751.5" y="996.6" text-anchor="end" textLength="129.8" lengthAdjust="spacingAndGlyphs">holo-GABA</text>
<path d="M765.6 990.5H788.8" stroke="#61c8d7" stroke-width="2.3" stroke-linecap="round"/>
<text x="461" y="1083.8" text-anchor="middle" textLength="108.1" lengthAdjust="spacingAndGlyphs">Time [ns]</text>
<text transform="translate(20.9 807.8) rotate(-90)" text-anchor="middle" textLength="87.7" lengthAdjust="spacingAndGlyphs">R<tspan style="font-size:18px" dy="2.6">g</tspan><tspan dy="-2.6"> [nm]</tspan></text>
<text x="10.1" y="1116.9" style="font-size:57px;stroke:#fff;stroke-width:1.2px">B</text>
</svg></body></html>
